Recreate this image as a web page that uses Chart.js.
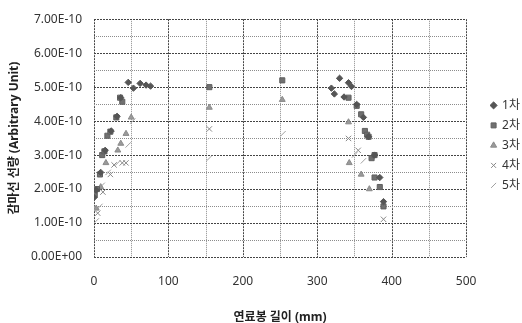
<!DOCTYPE html>
<html>
<head>
<meta charset="utf-8">
<script src="https://cdn.jsdelivr.net/npm/chart.js@4.4.1/dist/chart.umd.min.js"></script>
<style>
  html, body { margin: 0; padding: 0; background: #fff; }
  #wrap { width: 522px; height: 323px; }
</style>
</head>
<body>
<div id="wrap"><canvas id="chart"></canvas></div>
<script>
// values in units of 1e-10 (arbitrary unit), x in mm
const UNIT = 1e-10;
const seriesNames = ['1차', '2차', '3차', '4차', '5차'];

const run1 = [[0,1.75],[3,1.97],[9,2.49],[15,3.14],[23,3.71],[31,4.14],[36,4.69],[46,5.14],[53,4.97],[62,5.11],[70,5.06],[76,5.03],
  [319,4.97],[323,4.8],[330,5.26],[342,5.13],[346,5.02],[336,4.71],[353,4.49],[362,4.11],[369,3.54],[377,3.0],[384,2.34],[389,1.63]];
const run2 = [[1,1.83],[4,2.0],[8,2.43],[11,3.0],[14,3.11],[18,3.57],[22,3.69],[30,4.11],[35,4.69],[38,4.57],
  [155,5.0],[253,5.2],
  [342,4.69],[353,4.45],[359,4.2],[364,3.71],[367,3.6],[369,3.54],[373,2.91],[377,3.0],[377,2.34],[384,2.06],[389,1.49]];
const run3 = [[3,1.43],[9,2.06],[16,2.77],[32,3.14],[36,3.34],[43,3.63],[50,4.11],
  [155,4.4],[253,4.63],
  [342,3.97],[343,2.77],[359,2.43],[370,2.0]];
const run4 = [[5,1.29],[12,1.91],[22,2.43],[27,2.71],[38,2.77],[43,2.77],
  [155,3.77],
  [342,3.49],[355,3.14],[389,1.11]];
const run5 = [[3,1.06],[8,1.49],[11,2.11],[19,2.49],[32,2.77],[46,3.3],[52,4.0],
  [155,2.91],[254,3.63],
  [350,3.0],[362,2.83]];

const xTicks = [0, 50, 100, 150, 200, 250, 300, 350, 400, 450, 500];
const xLabels = [0, 100, 200, 300, 400, 500];
const yTicks = [0, 0.5, 1, 1.5, 2, 2.5, 3, 3.5, 4, 4.5, 5, 5.5, 6, 6.5, 7];
const yLabels = [0, 1, 2, 3, 4, 5, 6, 7];

const toPoints = arr => arr.map(p => ({ x: p[0], y: p[1] * UNIT }));

function yFmt(v) {
  const m = Math.round(v / UNIT * 100) / 100;
  if (!yLabels.some(t => Math.abs(t - m) < 1e-6)) return '';
  return m === 0 ? '0.00E+00' : m.toFixed(2) + 'E-10';
}
const isMajorX = v => xLabels.includes(v);
const isMajorY = v => yLabels.includes(v);

// dotted excel-style grid, positions taken from the chart's own scales
const dottedGrid = {
  id: 'dottedGrid',
  beforeDatasetsDraw(chart) {
    const { ctx, chartArea: a, scales: { x, y } } = chart;
    const line = (major, x1, y1, x2, y2) => {
      ctx.strokeStyle = major ? '#444' : '#8c8c8c';
      ctx.setLineDash(major ? [2, 1] : [1, 1]);
      ctx.beginPath();
      ctx.moveTo(x1, y1);
      ctx.lineTo(x2, y2);
      ctx.stroke();
    };
    ctx.save();
    ctx.lineWidth = 1;
    xTicks.forEach(v => {
      const px = Math.round(x.getPixelForValue(v)) + 0.5;
      line(isMajorX(v), px, a.top, px, a.bottom);
    });
    yTicks.forEach(v => {
      const py = Math.round(y.getPixelForValue(v * UNIT)) + 0.5;
      line(isMajorY(v), a.left, py, a.right, py);
    });
    ctx.restore();
  }
};

const font = "'Noto Sans', 'Noto Sans CJK KR', sans-serif";

new Chart(document.getElementById('chart'), {
  type: 'scatter',
  data: {
    datasets: [
      { label: seriesNames[0], data: toPoints(run1), pointStyle: 'rectRot', pointRadius: 3.2,
        backgroundColor: '#555', borderColor: '#555', borderWidth: 1 },
      { label: seriesNames[1], data: toPoints(run2), pointStyle: 'rect', pointRadius: 3.6,
        backgroundColor: '#707070', borderColor: '#606060', borderWidth: 1 },
      { label: seriesNames[2], data: toPoints(run3), pointStyle: 'triangle', pointRadius: 3.4,
        backgroundColor: '#9a9a9a', borderColor: '#8a8a8a', borderWidth: 1 },
      { label: seriesNames[3], data: toPoints(run4), pointStyle: 'crossRot', pointRadius: 3.8,
        backgroundColor: '#888', borderColor: '#888', borderWidth: 1 },
      { label: seriesNames[4], data: toPoints(run5), pointStyle: 'line', pointRotation: -45, pointRadius: 3.8,
        backgroundColor: '#aaa', borderColor: '#a0a0a0', borderWidth: 1 }
    ]
  },
  plugins: [dottedGrid],
  options: {
    responsive: true,
    maintainAspectRatio: false,
    devicePixelRatio: 1,
    animation: false,
    layout: { padding: { top: 15, right: -8, bottom: 0, left: 0 } },
    plugins: {
      tooltip: { enabled: false },
      legend: {
        position: 'right',
        align: 'start',
        // blank title only pushes the entries down to where the reference has them
        title: { display: true, text: ' ', font: { size: 12 }, padding: { top: 62, bottom: 0 } },
        labels: {
          usePointStyle: true,
          boxWidth: 5,
          boxHeight: 5,
          padding: 8,
          color: '#333',
          font: { family: font, size: 12 }
        }
      }
    },
    scales: {
      x: {
        type: 'linear',
        min: 0,
        max: 500,
        afterBuildTicks: s => { s.ticks = xTicks.map(v => ({ value: v })); },
        afterFit: s => { s.height = 66; },
        ticks: {
          padding: 17,
          color: '#333',
          font: { family: font, size: 12 },
          callback: v => isMajorX(v) ? String(v) : ''
        },
        grid: { display: false, drawTicks: false },
        border: { display: false },
        title: {
          display: true,
          text: '연료봉 길이 (mm)',
          color: '#222',
          font: { family: font, size: 12, weight: 'bold' },
          padding: { top: 0, bottom: -2 }
        }
      },
      y: {
        type: 'linear',
        min: 0,
        max: 7 * UNIT,
        afterBuildTicks: s => { s.ticks = yTicks.map(v => ({ value: v * UNIT })); },
        afterFit: s => { s.width = 94; },
        ticks: {
          padding: 12,
          color: '#333',
          font: { family: font, size: 12 },
          callback: v => yFmt(v)
        },
        grid: { display: false, drawTicks: false },
        border: { display: false },
        title: {
          display: true,
          text: '감마선 선량 (Arbitrary Unit)',
          color: '#222',
          font: { family: font, size: 12, weight: 'bold' },
          padding: { top: 7, bottom: 0 }
        }
      },
      gap: {
        type: 'linear',
        position: 'right',
        display: true,
        afterFit: s => { s.width = 17; },
        ticks: { display: false },
        grid: { display: false },
        border: { display: false }
      }
    }
  }
});
</script>
</body>
</html>
